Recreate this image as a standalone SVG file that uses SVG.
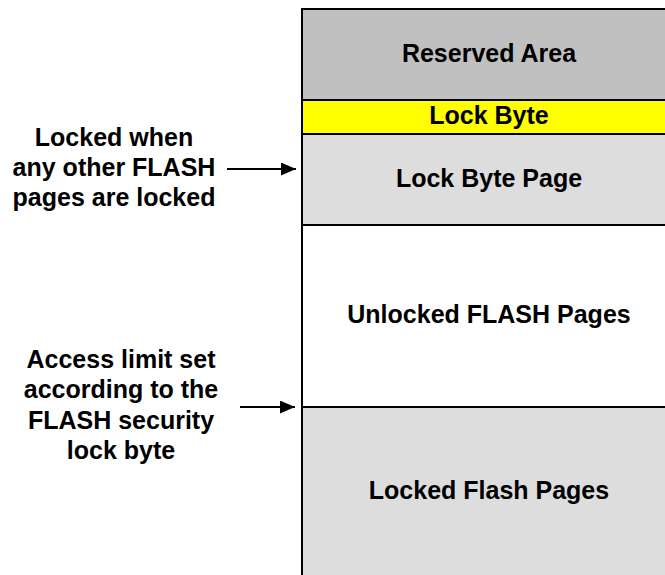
<svg xmlns="http://www.w3.org/2000/svg" width="665" height="575" viewBox="0 0 665 575">
<defs>
<style>
.t{font-family:"Liberation Sans",Arial,sans-serif;font-weight:bold;font-size:25px;fill:#000;text-anchor:middle}
.b{stroke:#000;stroke-width:2}
.c{stroke:#000;stroke-width:2;fill:none}
</style>
<marker id="ah" viewBox="0 0 15 13" refX="15" refY="6.5" markerWidth="15" markerHeight="13" markerUnits="userSpaceOnUse" orient="auto">
<path d="M0,0 L15,6.5 L0,13 z" fill="#000"/>
</marker>
</defs>
<rect width="665" height="575" fill="#fff"/>
<g id="reserved-area">
<rect class="b" x="302" y="9" width="370" height="91" fill="#C0C0C0"/>
<text class="t" x="489" y="62">Reserved Area</text>
</g>
<g id="lock-byte">
<rect class="b" x="302" y="100" width="370" height="34" fill="#FFFF00"/>
<text class="t" x="489" y="124">Lock Byte</text>
</g>
<g id="lock-byte-page">
<rect class="b" x="302" y="134" width="370" height="91" fill="#DDDDDD"/>
<text class="t" x="489" y="187">Lock Byte Page</text>
</g>
<g id="unlocked-flash-pages">
<rect class="b" x="302" y="225" width="370" height="182" fill="#FFFFFF"/>
<text class="t" x="489" y="323">Unlocked FLASH Pages</text>
</g>
<g id="locked-flash-pages">
<rect class="b" x="302" y="407" width="370" height="180" fill="#DDDDDD"/>
<text class="t" x="489" y="499">Locked Flash Pages</text>
</g>
<g id="note-locked">
<text class="t" x="114" y="146">Locked when</text>
<text class="t" x="114" y="176">any other FLASH</text>
<text class="t" x="114" y="206">pages are locked</text>
</g>
<g id="note-access">
<text class="t" x="121" y="368">Access limit set</text>
<text class="t" x="121" y="398">according to the</text>
<text class="t" x="121" y="429">FLASH security</text>
<text class="t" x="121" y="459">lock byte</text>
</g>
<g id="connectors">
<line class="c" x1="227" y1="169" x2="296" y2="169" marker-end="url(#ah)"/>
<line class="c" x1="240" y1="407" x2="295" y2="407" marker-end="url(#ah)"/>
</g>
</svg>
